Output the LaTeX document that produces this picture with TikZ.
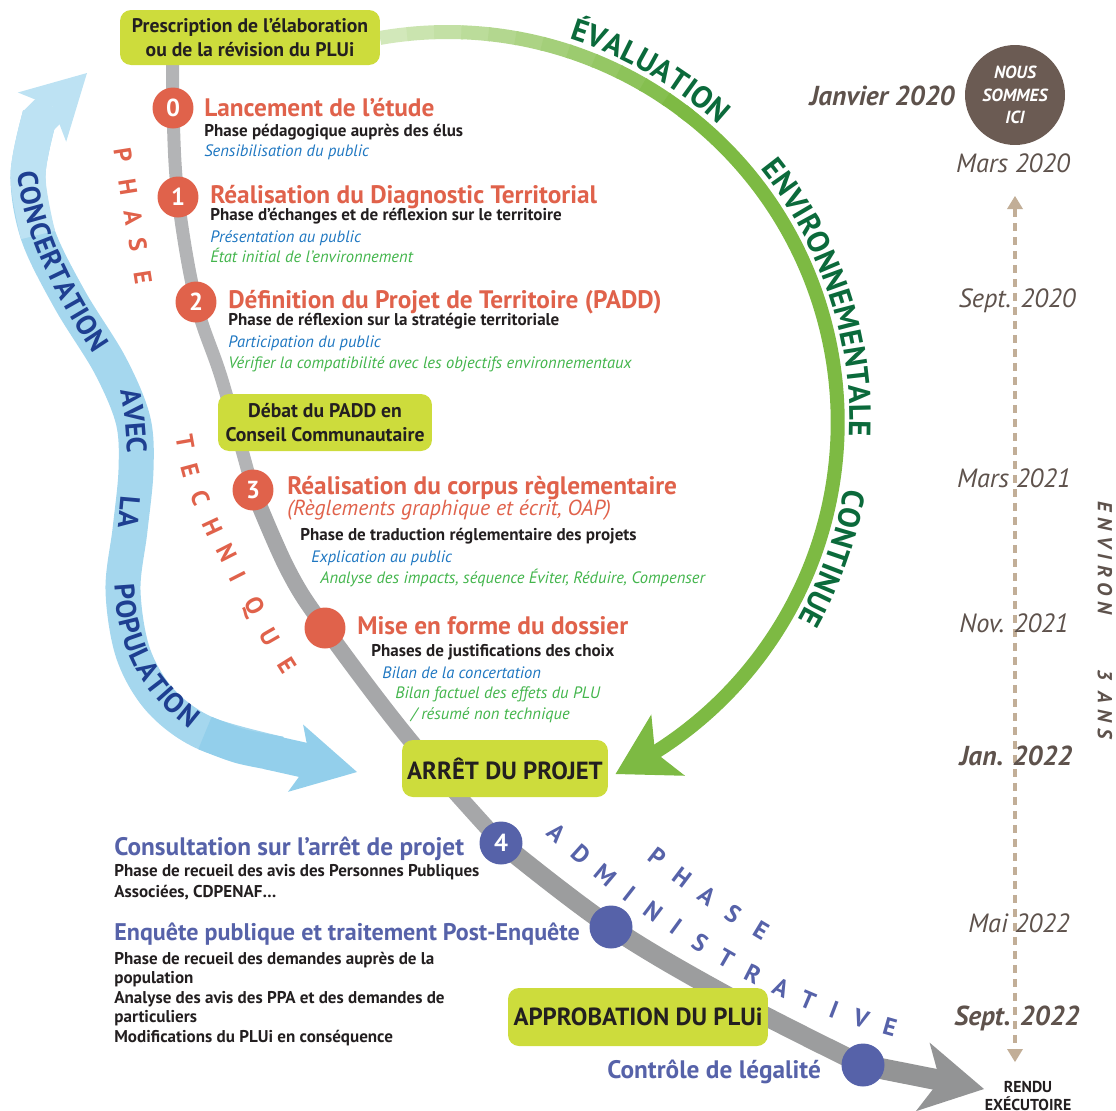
\documentclass[tikz,border=0pt]{standalone}
\usepackage{fontspec}
\setmainfont{PT Sans}
\usetikzlibrary{arrows.meta,bending,positioning,calc,decorations.text}

\definecolor{boxyellow}{HTML}{CDDC3C}
\definecolor{redstep}{HTML}{E0624B}
\definecolor{darktxt}{HTML}{231F20}
\definecolor{pubblue}{HTML}{1F77C1}
\definecolor{envgreen}{HTML}{43B54C}
\definecolor{admblue}{HTML}{5662A9}
\definecolor{evdark}{HTML}{0B6A3B}
\definecolor{evline}{HTML}{7DBA43}
\definecolor{evlight}{HTML}{D2E8BA}
\definecolor{concblue}{HTML}{A5D7EE}
\definecolor{conctop}{HTML}{BDE2F3}
\definecolor{concbot}{HTML}{93CFEB}
\definecolor{conctext}{HTML}{1E3F91}
\definecolor{datebrown}{HTML}{5E524C}
\definecolor{herebrown}{HTML}{6B5B53}
\definecolor{tantl}{HTML}{C2AE97}

\pgfdeclarelayer{bg}
\pgfsetlayers{bg,main}

\begin{document}
\begin{tikzpicture}[x=0.02cm, y=0.02cm,
    stepbox/.style={fill=boxyellow, rounded corners=0.22cm, align=center, inner sep=2pt, text=darktxt,
      font=\bfseries\fontsize{11.2}{13.4}\selectfont},
    bigbox/.style={stepbox, font=\bfseries\fontsize{14.1}{16}\selectfont},
    stepdot/.style={circle, fill=redstep, minimum size=0.82cm, inner sep=0pt, text=white,
      font=\bfseries\fontsize{14}{14}\selectfont},
    admdot/.style={stepdot, fill=admblue, minimum size=0.86cm},
    headline/.style={anchor=base west, inner sep=0pt, text=redstep, font=\bfseries\fontsize{14.4}{16}\selectfont},
    subline/.style={anchor=base west, inner sep=0pt, text=darktxt, font=\bfseries\fontsize{9.7}{11.5}\selectfont},
    publine/.style={anchor=base west, inner sep=0pt, text=pubblue, font=\itshape\fontsize{9.4}{11}\selectfont},
    envline/.style={publine, text=envgreen},
    datelbl/.style={anchor=base, inner sep=0pt, text=datebrown, font=\itshape\fontsize{15}{17}\selectfont},
    keydate/.style={datelbl, font=\bfseries\itshape\fontsize{15.6}{17}\selectfont},
    phaseletter/.style={inner sep=0pt, text=redstep, font=\bfseries\fontsize{14}{14}\selectfont},
    admletter/.style={phaseletter, text=admblue},
    spine/.style={line cap=butt},
    evarc/.style={line width=0.28cm},
    spinearrow/.style={-{Stealth[length=1.25cm, width=1.4cm, inset=0.35cm, line width=0pt]}},
    concarrow/.style={line width=0.7cm, -{Stealth[length=1.26cm, width=1.38cm, inset=0.3cm, line width=0pt]}},
    concword/.style={decorate, decoration={text along path, text color=conctext, text align=center, raise=-5.6pt,
      text={|\bfseries\fontsize{16}{16}\selectfont|#1}}},
    evword/.style={decorate, decoration={text along path, text color=evdark, text align=center,
      text={|\bfseries\fontsize{17.5}{17.5}\selectfont|#1}}}
  ]
  \useasboundingbox (0,0) rectangle (1116,-1110);

  % boxes
  \node[stepbox, minimum width=5.2cm, minimum height=1.1cm] (presc) at (250,-37.5)
    {Prescription de l’élaboration\\ou de la révision du PLUi};
  \node[stepbox, minimum width=4.28cm, minimum height=1.14cm] (debat) at (325,-422.5)
    {Débat du PADD en\\Conseil Communautaire};
  \node[bigbox, minimum width=4.12cm, minimum height=1.14cm] (arret) at (505,-768.5) {ARRÊT DU PROJET};
  \node[bigbox, minimum width=5.2cm, minimum height=1.16cm] (approb) at (638,-1017) {APPROBATION DU PLUi};

  % steps on the spine
  \node[stepdot] (c0) at (173,-108) {0};
  \node[stepdot] (c1) at (178,-197) {1};
  \node[stepdot] (c2) at (196,-302) {2};
  \node[stepdot] (c3) at (253,-490) {3};
  \node[stepdot] (cm) at (325,-628) {};
  \node[admdot] (c4) at (501,-843) {4};
  \node[admdot] (c5) at (611,-927) {};
  \node[admdot] (c6) at (863,-1065) {};
  \coordinate (tip) at (984,-1089);
  \coordinate (evc) at (447.7,-422);
  \coordinate (conctip) at (87,-73);
  \coordinate (concend) at (357,-772);

  \begin{pgfonlayer}{bg}
    % concertation band
    \draw[concblue, line width=0.7cm]
      plot[smooth, tension=0.55] coordinates {(40,-115) (28,-175) (38,-235) (70,-300) (110,-365)
        (133,-420) (136,-470) (130,-530) (123,-590) (133,-653) (160,-700) (205,-733) (280,-754)};
    \draw[conctop, line width=0.7cm]
      plot[smooth, tension=0.55] coordinates {(40,-115) (28,-175) (38,-235)};
    \draw[conctop, concarrow] (35,-124) -- (conctip);
    \draw[concbot, line width=0.7cm]
      plot[smooth, tension=0.55] coordinates {(205,-733) (240,-746) (280,-754)};
    \draw[concbot, concarrow] (268,-752) -- (concend);
    % spine
    \draw[spine, line width=0.26cm, draw={rgb,255:red,179;green,180;blue,182}]
      plot[smooth, tension=0.6] coordinates {(c0 |- presc.center) (c0.center) (c1.center) (c2.center) (222,-380) (c3.center)};
    \draw[spine, line width=0.32cm, draw={rgb,255:red,166;green,167;blue,169}]
      plot[smooth, tension=0.6] coordinates {(c3.center) (288,-570) (cm.center) (410,-740) (c4.center)};
    \draw[spine, line width=0.38cm, draw={rgb,255:red,156;green,157;blue,158}]
      plot[smooth, tension=0.6] coordinates {(c4.center) (c5.center) (735,-1000) (c6.center)};
    \draw[spine, line width=0.42cm, draw={rgb,255:red,147;green,148;blue,149}, spinearrow] (c6.center) -- (tip);
    % evaluation arc
    \foreach \i in {0,...,11} {
      \pgfmathtruncatemacro\p{9*\i}
      \draw[evarc, draw=evline!\p!evlight] (evc) ++({100-4*\i}:390) arc[start angle={100-4*\i}, end angle={95.7-4*\i}, radius=390];
    }
    \draw[evarc, draw=evline, -{Stealth[length=1.2cm, width=1.4cm, inset=0.3cm, line width=0pt]}]
      (evc) ++(53:390) arc[start angle=53, end angle=-64.5, radius=390];
  \end{pgfonlayer}

  % curved labels
  \path[evword=ÉVALUATION] (evc) ++(80:402) arc[start angle=80, end angle=40, radius=402];
  \path[evword=ENVIRONNEMENTALE] (evc) ++(46:402) arc[start angle=46, end angle=-9, radius=402];
  \path[evword=CONTINUE] (evc) ++(-4:402) arc[start angle=-4, end angle=-35, radius=402];
  \path[concword=CONCERTATION] (26,-148) .. controls (26,-220) and (60,-290) .. (115,-368);
  \path[concword=AVEC] (128,-380) .. controls (134,-400) and (137,-440) .. (137,-462);
  \path[concword=LA] (131,-490) -- (127,-535);
  \path[concword=POPULATION] (124,-560) .. controls (122,-640) and (145,-690) .. (215,-735);

  % phase letters
  \foreach \l/\x/\y [count=\k] in {P/123/155, H/128/187, A/133/217, S/138/245, E/143/277}
    \node[phaseletter, rotate=-81] (ph\k) at (\x,-\y) {\l};
  \foreach \l/\x/\y/\r [count=\k] in {T/185/442/-80, E/190/470/-75, C/200/498/-69, H/213/527/-65, N/227/553/-63,
      I/238/577/-63, Q/253/607/-62, U/270/637/-60, E/287/665/-58}
    \node[phaseletter, rotate=\r] (te\k) at (\x,-\y) {\l};
  \foreach \l/\x/\y/\r [count=\k] in {P/657/857/-38, H/682/877/-37, A/707/896/-36, S/733/914/-34, E/761/930/-31}
    \node[admletter, rotate=\r] (pa\k) at (\x,-\y) {\l};
  \foreach \l/\x/\y/\r [count=\k] in {A/557/833/-42, D/581/854/-42, M/606/875/-40, I/630/894/-38, N/653/911/-37,
      I/676/927/-36, S/700/943/-33, T/726/959/-30, R/753/974/-27, A/781/988/-25, T/808/1000/-23,
      I/834/1010/-21, V/861/1019/-18, E/890/1027/-16}
    \node[admletter, rotate=\r] (ad\k) at (\x,-\y) {\l};

  % step texts
  \node[headline] (t0) at (204,-116) {Lancement de l’étude};
  \node[subline] (s0) at (204,-136) {Phase pédagogique auprès des élus};
  \node[publine] (p0) at (204,-156) {Sensibilisation du public};

  \node[headline] (t1) at (210,-203) {Réalisation du Diagnostic Territorial};
  \node[subline] (s1) at (210,-220) {Phase d’échanges et de réflexion sur le territoire};
  \node[publine] (p1) at (210,-242) {Présentation au public};
  \node[envline] (e1) at (210,-262) {État initial de l’environnement};

  \node[headline] (t2) at (228,-308) {Définition du Projet de Territoire (PADD)};
  \node[subline] (s2) at (228,-325) {Phase de réflexion sur la stratégie territoriale};
  \node[publine] (p2) at (228,-347) {Participation du public};
  \node[envline] (e2) at (228,-368) {Vérifier la compatibilité avec les objectifs environnementaux};

  \node[headline] (t3) at (287,-494) {Réalisation du corpus règlementaire};
  \node[headline, font=\itshape\fontsize{12.4}{15}\selectfont] (t3b) at (287,-515) {(Règlements graphique et écrit, OAP)};
  \node[subline] (s3) at (300,-540) {Phase de traduction réglementaire des projets};
  \node[publine] (p3) at (311,-562) {Explication au public};
  \node[envline] (e3) at (320,-583) {Analyse des impacts, séquence Éviter, Réduire, Compenser};

  \node[headline] (tm) at (357,-634) {Mise en forme du dossier};
  \node[subline] (sm) at (371,-656) {Phases de justifications des choix};
  \node[publine] (pm) at (382,-678) {Bilan de la concertation};
  \node[envline] (em) at (395,-698) {Bilan factuel des effets du PLU};
  \node[envline] (em2) at (411,-719) {/ résumé non technique};

  \node[headline, text=admblue] (t4) at (114,-855) {Consultation sur l’arrêt de projet};
  \node[subline] (s4a) at (114,-876) {Phase de recueil des avis des Personnes Publiques};
  \node[subline] (s4b) at (114,-897) {Associées, CDPENAF…};

  \node[headline, text=admblue, font=\bfseries\fontsize{13.7}{16}\selectfont] (t5) at (114,-940) {Enquête publique et traitement Post-Enquête};
  \node[subline] (s5a) at (114,-964) {Phase de recueil des demandes auprès de la};
  \node[subline] (s5b) at (114,-983) {population};
  \node[subline] (s5c) at (114,-1003) {Analyse des avis des PPA et des demandes de};
  \node[subline] (s5d) at (114,-1022) {particuliers};
  \node[subline] (s5e) at (114,-1042) {Modifications du PLUi en conséquence};

  \node[headline, text=admblue] (t6) at (607,-1078) {Contrôle de légalité};
  \node[align=center, text=darktxt, font=\bfseries\fontsize{9}{9.8}\selectfont] (rendu) at (1028,-1096) {RENDU\\EXÉCUTOIRE};

  % timeline
  \node[circle, fill=herebrown, minimum size=2cm, inner sep=0pt, align=center, text=white,
    font=\bfseries\itshape\fontsize{10}{12.8}\selectfont] (here) at (1015,-95) {NOUS\\SOMMES\\ICI};
  \node[keydate, anchor=base east] (jan20) at (955,-105) {Janvier 2020};
  \coordinate (tltop) at (1015,-196);
  \coordinate (tlbot) at (1015,-1062);
  \draw[tantl, line width=0.08cm, dash pattern=on 0.16cm off 0.12cm,
    {Triangle[length=0.26cm, width=0.32cm, line width=0pt]}-{Triangle[length=0.26cm, width=0.32cm, line width=0pt]}] (tltop) -- (tlbot);
  \node[datelbl] (mar20) at (1013,-172) {Mars 2020};
  \node[datelbl] (sep20) at (1017,-307) {Sept. 2020};
  \node[datelbl] (mar21) at (1014,-487) {Mars 2021};
  \node[datelbl] (nov21) at (1014,-632) {Nov. 2021};
  \node[keydate] (jan22) at (1016,-765) {Jan. 2022};
  \node[datelbl] (mai22) at (1019,-932) {Mai 2022};
  \node[keydate] (sep22) at (1017,-1025) {Sept. 2022};
  \node[rotate=-90, text=datebrown, font=\bfseries\itshape\fontsize{11.5}{12}\selectfont] (env3) at (1105,-620)
    {\addfontfeature{LetterSpace=30}ENVIRON\hspace{1.1cm}3 ANS};
\end{tikzpicture}
\end{document}
